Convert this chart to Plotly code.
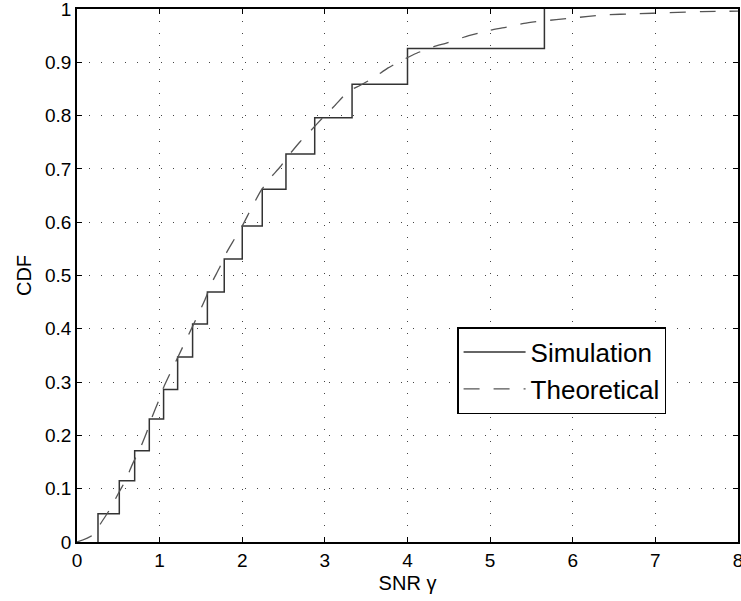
import plotly.graph_objects as go

# Simulation (empirical CDF) — jump positions and levels after each jump
sim_jumps = [0.254, 0.512, 0.698, 0.875, 1.048, 1.218, 1.399, 1.578, 1.782, 2.0,
             2.242, 2.529, 2.877, 3.329, 4.0, 5.657]
sim_levels = [0.053, 0.115, 0.171, 0.231, 0.286, 0.347, 0.409, 0.469, 0.531, 0.593,
              0.662, 0.728, 0.796, 0.859, 0.926, 1.0]

# Theoretical CDF
th_x = [0, 0.18, 0.30, 0.40, 0.50, 0.585, 0.677, 0.754, 0.839, 0.895, 0.988, 1.048,
        1.2, 1.4, 1.55, 1.63, 1.72, 1.81, 1.90, 2.0, 2.11, 2.23, 2.34, 2.46, 2.55,
        2.70, 2.83, 2.98, 3.11, 3.28, 3.43, 3.6, 3.76, 3.95, 4.11, 4.31, 4.49, 4.68,
        4.87, 5.0, 5.2, 5.41, 5.6, 5.8, 5.98, 6.19, 6.38, 6.77, 7.17, 7.56, 8.0]
th_y = [0, 0.012, 0.038, 0.062, 0.091, 0.115, 0.148, 0.172, 0.204, 0.229, 0.265, 0.290,
        0.340, 0.405, 0.455, 0.486, 0.513, 0.543, 0.567, 0.593, 0.626, 0.66, 0.683, 0.704,
        0.723, 0.751, 0.772, 0.797, 0.817, 0.845, 0.857, 0.872, 0.889, 0.905, 0.917, 0.929,
        0.937, 0.947, 0.955, 0.96, 0.966, 0.973, 0.977, 0.98, 0.983, 0.986, 0.989, 0.991,
        0.993, 0.995, 0.996]

x_ticks = [0, 1, 2, 3, 4, 5, 6, 7, 8]
y_ticks = [0, 0.1, 0.2, 0.3, 0.4, 0.5, 0.6, 0.7, 0.8, 0.9, 1]
y_tick_labels = ["0", "0.1", "0.2", "0.3", "0.4", "0.5", "0.6", "0.7", "0.8", "0.9", "1"]

FONT = "Liberation Sans, Arial, Helvetica, sans-serif"

fig = go.Figure()
fig.add_trace(go.Scatter(
    x=[sim_jumps[0]] + sim_jumps, y=[0] + sim_levels,
    mode="lines", line=dict(color="#333333", width=1.5, shape="hv"),
    name="Simulation"))
fig.add_trace(go.Scatter(
    x=th_x, y=th_y, mode="lines",
    line=dict(color="#555555", width=1.3, dash="16px,14px", shape="spline", smoothing=0.6),
    name="Theoretical"))

axis_common = dict(
    showline=True, linecolor="black", linewidth=1.5, mirror="allticks",
    ticks="inside", ticklen=5, tickwidth=1, tickcolor="black",
    showgrid=True, gridcolor="#444444", gridwidth=1, griddash="1px,11px",
    zeroline=False, tickfont=dict(family=FONT, size=19, color="black"),
    ticklabeloverflow="allow", automargin=False,
)

fig.update_layout(
    width=741, height=601,
    margin=dict(l=77, r=3, t=9, b=59),
    paper_bgcolor="white", plot_bgcolor="white",
    font=dict(family=FONT, color="black"),
    xaxis=dict(range=[0, 8], tickvals=x_ticks,
               title=dict(text="SNR γ", font=dict(family=FONT, size=20), standoff=6),
               **axis_common),
    yaxis=dict(range=[0, 1], tickvals=y_ticks, ticktext=y_tick_labels,
               title=dict(text="CDF", font=dict(family=FONT, size=20), standoff=8),
               **axis_common),
    legend=dict(x=0.575, y=0.403, xanchor="left", yanchor="top",
                bgcolor="white", bordercolor="black", borderwidth=1.5,
                itemwidth=62,
                font=dict(family=FONT, size=26, color="black")),
    showlegend=True,
)

fig.write_html("out.html",
               config={"displayModeBar": False},
               post_script="document.body.style.margin='0';document.body.style.overflow='hidden';")
